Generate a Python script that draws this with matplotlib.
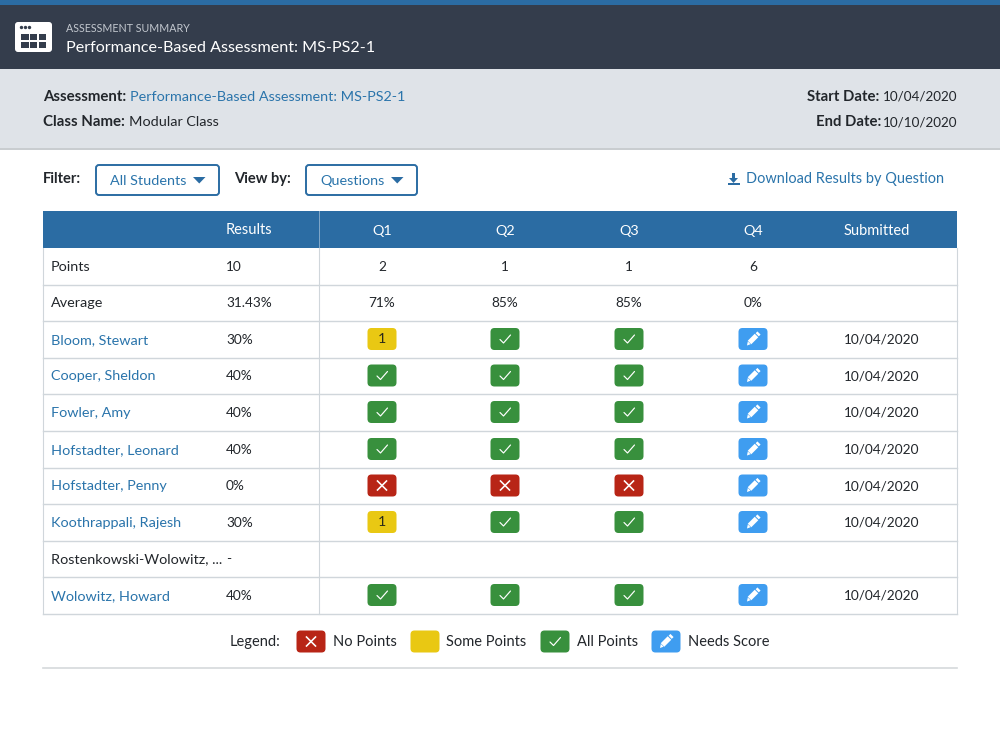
"""Assessment summary table, drawn on one pixel-sized axes."""
import matplotlib
matplotlib.use("Agg")
import matplotlib.pyplot as plt
from matplotlib.patches import FancyBboxPatch, Polygon, Rectangle

plt.rcParams["font.family"] = ["Lato", "DejaVu Sans"]

BLUE = "#2b6ca3"
LINK = "#2a74ab"
DARK = "#343d4c"
INK = "#22262b"
GRID = "#d0d6db"
STATUS_COLORS = {"X": "#b82516", "S": "#e9c813", "A": "#38903d", "N": "#3f9df0"}

# table data
columns = ["Results", "Q1", "Q2", "Q3", "Q4", "Submitted"]
points = ["10", "2", "1", "1", "6"]
averages = ["31.43%", "71%", "85%", "85%", "0%"]
students = ["Bloom, Stewart", "Cooper, Sheldon", "Fowler, Amy", "Hofstadter, Leonard",
            "Hofstadter, Penny", "Koothrappali, Rajesh", "Rostenkowski-Wolowitz, ...",
            "Wolowitz, Howard"]
results = ["30%", "40%", "40%", "40%", "0%", "30%", "-", "40%"]
q1 = ["S", "A", "A", "A", "X", "S", "", "A"]
q2 = ["A", "A", "A", "A", "X", "A", "", "A"]
q3 = ["A", "A", "A", "A", "X", "A", "", "A"]
q4 = ["N", "N", "N", "N", "N", "N", "", "N"]
submitted = ["10/04/2020", "10/04/2020", "10/04/2020", "10/04/2020",
             "10/04/2020", "10/04/2020", "", "10/04/2020"]
legend_labels = ["No Points", "Some Points", "All Points", "Needs Score"]
legend_codes = ["X", "S", "A", "N"]

# layout, in pixels
row_edges = [248, 285, 321, 358, 394, 431, 468, 504, 541, 577, 614]
q_x = [382, 505, 629, 753]
legend_badge_x = [311, 425, 555, 666]
legend_text_x = [333, 446, 577, 688]

TEXT = 10.4
NUM = 9.8

fig = plt.figure(figsize=(10, 7.5), dpi=100)
ax = fig.add_axes([0, 0, 1, 1])
ax.set_xlim(0, 1000)
ax.set_ylim(750, 0)
ax.axis("off")


def rect(x0, y0, x1, y1, color, z=1):
    ax.add_patch(Rectangle((x0, y0), x1 - x0, y1 - y0, fc=color, ec="none", zorder=z))


def label(x, y, s, size=TEXT, color=INK, ha="left", weight="normal"):
    ax.text(x, y + 2.4, s, fontsize=size, color=color, ha=ha, va="center", weight=weight, zorder=6)


def badge(cx, cy, code, text=None):
    ax.add_patch(FancyBboxPatch((cx - 14.5 + 4, cy - 11 + 4), 21, 14,
                                boxstyle="round,pad=4,rounding_size=4",
                                fc=STATUS_COLORS[code], ec="none", zorder=4))
    if code == "A":
        ax.plot([cx - 5, cx - 1.5, cx + 5.5], [cy + 0.5, cy + 4, cy - 4], color="white",
                lw=0.85, zorder=5, solid_capstyle="round")
    elif code == "X":
        ax.plot([cx - 4.5, cx + 4.5], [cy - 4.5, cy + 4.5], color="white", lw=1.15, zorder=5)
        ax.plot([cx - 4.5, cx + 4.5], [cy + 4.5, cy - 4.5], color="white", lw=1.15, zorder=5)
    elif code == "N":
        # pencil
        ax.plot([cx - 3.5, cx + 3.5], [cy + 3.5, cy - 3.5], color="white", lw=3.6,
                zorder=5, solid_capstyle="butt")
        ax.add_patch(Polygon([[cx - 6, cy + 6.5], [cx - 5.2, cy + 2.4], [cx - 2.4, cy + 5.2]],
                             fc="white", ec="none", zorder=5))
        ax.plot([cx + 4.2, cx + 6], [cy - 4.2, cy - 6], color="white", lw=3.2, zorder=5,
                solid_capstyle="butt")
    if text:
        label(cx, cy - 2, text, size=10.2, color="#2a2a1a", ha="center")


# top bars
rect(0, 0, 1000, 5, BLUE)
rect(0, 5, 1000, 69, DARK)
rect(0, 69, 1000, 149, "#dfe3e8")
rect(0, 148, 1000, 150, "#c9cdd0")

# calendar icon
ax.add_patch(FancyBboxPatch((17, 24), 33, 26, boxstyle="round,pad=2,rounding_size=3",
                            fc="white", ec="none", zorder=2))
ax.scatter([21, 25, 29], [27, 27, 27], s=6, color=DARK, linewidths=0, zorder=3)
rect(21, 34, 46, 48, DARK, z=3)
for vx in (28.5, 37):
    rect(vx, 34, vx + 1.5, 48, "white", z=4)
rect(21, 40.2, 46, 41.8, "white", z=4)

label(66, 26, "ASSESSMENT SUMMARY", size=7.7, color="#c3c8cf")
label(66, 46, "Performance-Based Assessment: MS-PS2-1", size=11.65, color="white")

label(43, 94.5, "Assessment:", size=10.8, weight="bold")
label(130, 94.5, "Performance-Based Assessment: MS-PS2-1", color=LINK)
label(43, 120, "Class Name:", size=10.8, weight="bold")
label(129, 120, "Modular Class")
label(879, 94.5, "Start Date:", size=10.7, ha="right", weight="bold")
label(957, 94.5, "10/04/2020", size=9.7, ha="right")
label(881, 120, "End Date:", size=10.7, ha="right", weight="bold")
label(957, 120, "10/10/2020", size=9.7, ha="right")

# filter row
label(43, 176.5, "Filter:", size=10.5, weight="bold")
label(234, 176.5, "View by:", size=10.5, weight="bold")
for x0, x1, text, tx in [(96, 219, "All Students", 110), (306, 417, "Questions", 320)]:
    ax.add_patch(FancyBboxPatch((x0 + 3, 168), x1 - x0 - 6, 24,
                                boxstyle="round,pad=3,rounding_size=3",
                                fc="white", ec=BLUE, lw=1.4, zorder=2))
    label(tx, 178.5, text, color=LINK)
    ax.add_patch(Polygon([[x1 - 26, 177], [x1 - 13.5, 177], [x1 - 19.75, 183.5]],
                         fc=BLUE, ec="none", zorder=3))
label(746, 177, "Download Results by Question", size=10.45, color=LINK)
# download icon
rect(732, 173, 735, 179, BLUE, 3)
ax.add_patch(Polygon([[729, 178], [738, 178], [733.5, 183]], fc=BLUE, ec="none", zorder=3))
rect(728, 183, 739.5, 185, BLUE, 3)

# table header
rect(43, 211, 957, 248, BLUE)
rect(318.5, 211, 319.5, 248, "#7fa6c8", 2)
label(226, 227.5, columns[0], size=10.5, color="white")
for x, name in zip(q_x, columns[1:5]):
    label(x, 228.5, name, color="white", ha="center")
label(844, 228.5, columns[5], size=10.5, color="white")

# table lines
for y in row_edges[1:]:
    ax.plot([43, 957], [y, y], color=GRID, lw=1, zorder=2)
for x in (43, 319, 957):
    ax.plot([x, x], [248, 614], color=GRID, lw=0.8, zorder=2)

# summary rows
centers = [(a + b) / 2 for a, b in zip(row_edges[:-1], row_edges[1:])]
for cy, name, vals in [(centers[0], "Points", points), (centers[1], "Average", averages)]:
    label(51, cy - 2, name)
    label(226, cy - 2, vals[0], size=NUM)
    for x, v in zip(q_x, vals[1:]):
        label(x, cy - 2, v, size=NUM, ha="center")

# student rows
for i, name in enumerate(students):
    cy = centers[i + 2]
    row_codes = [q1[i], q2[i], q3[i], q4[i]]
    label(51, cy - 2, name, color=LINK if row_codes[0] else INK)
    label(226, cy - 2, results[i], size=NUM)
    label(844, cy - 2, submitted[i], size=NUM)
    for x, code in zip(q_x, row_codes):
        if code:
            badge(x, cy - 0.5, code, text="1" if code == "S" else None)

# legend
label(230, 639.5, "Legend:", size=10.5)
for bx, tx, code, name in zip(legend_badge_x, legend_text_x, legend_codes, legend_labels):
    badge(bx, 641.5, code)
    label(tx, 639.5, name, size=10.5)
ax.plot([43, 957], [668, 668], color="#d5d9dc", lw=1.2)

fig.savefig("out.png", dpi=100)
plt.close(fig)
